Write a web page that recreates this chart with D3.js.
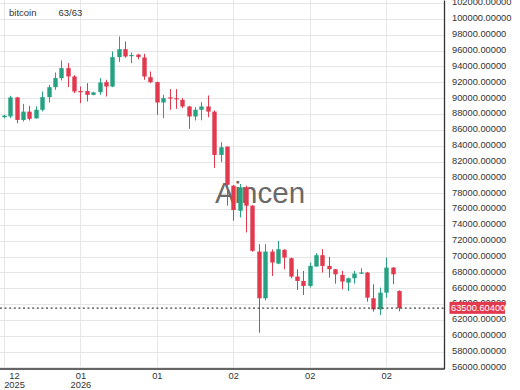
<!DOCTYPE html>
<html>
<head>
<meta charset="utf-8">
<script src="https://cdn.jsdelivr.net/npm/d3@7"></script>
<style>
html,body{margin:0;padding:0;background:#fff;}
svg{display:block;}
text{font-family:"Liberation Sans",Arial,sans-serif;}
</style>
</head>
<body>
<svg id="chart" width="520" height="390"></svg>
<script>
// ---- data ----
const seriesName = "bitcoin";
const countLabel = "63/63";
const watermark = "Aincen";
const opens  = [87600,87700,90100,87250,88300,87450,88530,90130,91390,92530,93790,92740,90900,90900,90420,90760,92020,91470,95180,96190,95300,95500,95140,92650,92020,89450,90100,90000,89790,88950,87685,88530,88950,88300,82830,83880,78950,75780,78740,76420,70630,64730,70630,69110,70850,69790,67470,66920,66290,68740,70170,68820,68400,67680,66710,67260,67850,67980,64730,63330,65440,68610,65650];
const highs  = [87900,90300,90150,89280,89030,88950,90840,91680,93240,94760,94420,92900,91470,91900,90800,92530,92320,95900,97790,97160,95770,95600,95600,93370,92100,90420,91140,91140,90000,89030,88860,89500,90340,88440,84430,83900,79030,79160,78950,76500,71560,71560,70900,71980,70930,69870,68400,68190,69240,70420,70930,69960,68400,68190,67340,68190,68520,68060,66500,66080,69870,68690,65740];
const lows   = [87450,87480,86840,87050,87180,87400,88320,89450,91050,92230,91390,90630,89370,89580,90350,90420,90210,91390,94550,95100,94420,94900,92320,91890,87900,87480,88530,88650,88740,86130,87180,87200,87600,81180,81900,76420,74520,74940,73040,70600,60380,64470,67550,69030,68400,67260,65780,65150,66080,68740,67980,67340,66580,65870,65650,66580,67800,64300,63040,62620,64810,66500,63080];
const closes = [87800,90100,87250,88300,87390,88530,90130,91390,92530,93790,92740,90840,90750,90420,90720,91980,91470,95180,96190,95260,95450,95200,92740,92020,89450,90000,89950,89850,88950,87685,88530,88950,88300,82830,83800,79070,75870,78740,76420,70720,64730,70630,69240,70930,69870,67470,66920,66290,68820,70170,68820,68400,67760,66840,67260,67850,67980,64810,63330,65440,68610,67760,63500.604];
const lastPrice = 63500.604;
const yTicks = [56000,58000,60000,62000,64000,66000,68000,70000,72000,74000,76000,78000,80000,82000,84000,86000,88000,90000,92000,94000,96000,98000,100000,102000];
const xTickIndex = [0,12,24,36,48,60];
const xTickMonth = ["12","01","01","02","02","02"];
const xTickYear  = ["2025","2026","","","",""];

// ---- layout ----
const plotRight = 444, plotBottom = 369;
const upColor = "#26a283", downColor = "#e2394f";
const svg = d3.select("#chart");

const x = d3.scaleLinear().domain([0, 62]).range([4, 398.9]);
const y = d3.scaleLinear().domain([55803, 102394]).range([plotBottom, 0]);

// grid
const grid = svg.append("g");
grid.selectAll("line.h").data(yTicks).join("line")
  .attr("x1", 0).attr("x2", plotRight)
  .attr("y1", d => Math.round(y(d)) + 0.5).attr("y2", d => Math.round(y(d)) + 0.5)
  .attr("stroke", "#e6e6e6").attr("stroke-width", 1);
grid.selectAll("line.v").data(xTickIndex).join("line")
  .attr("x1", d => Math.round(x(d)) + 0.5).attr("x2", d => Math.round(x(d)) + 0.5)
  .attr("y1", 0).attr("y2", plotBottom)
  .attr("stroke", "#e6e6e6").attr("stroke-width", 1);

// watermark
svg.append("text").attr("x", 260).attr("y", 203)
  .attr("text-anchor", "middle").attr("font-size", 29.5)
  .attr("fill", "#555").attr("fill-opacity", 0.9).text(watermark);

// candles
const idx = d3.range(opens.length);
const bw = 4.4;
const cg = svg.append("g");
cg.selectAll("line.wick").data(idx).join("line")
  .attr("x1", i => Math.round(x(i)) + 0.5).attr("x2", i => Math.round(x(i)) + 0.5)
  .attr("y1", i => y(highs[i])).attr("y2", i => y(lows[i]))
  .attr("stroke", i => closes[i] >= opens[i] ? upColor : downColor).attr("stroke-width", 1);
cg.selectAll("rect.body").data(idx).join("rect")
  .attr("x", i => Math.round(x(i)) + 0.5 - bw / 2)
  .attr("width", bw)
  .attr("y", i => y(Math.max(opens[i], closes[i])))
  .attr("height", i => Math.max(1.2, Math.abs(y(opens[i]) - y(closes[i]))))
  .attr("fill", i => closes[i] >= opens[i] ? upColor : downColor);

// last price line
svg.append("line").attr("x1", 0).attr("x2", plotRight)
  .attr("y1", y(lastPrice)).attr("y2", y(lastPrice))
  .attr("stroke", "#444").attr("stroke-width", 1.2).attr("stroke-dasharray", "2,2.6");

// y axis (right)
const yAxis = d3.axisRight(y).tickValues(yTicks).tickSize(0).tickPadding(8)
  .tickFormat(d => d3.format(".5f")(d));
const ya = svg.append("g").attr("transform", `translate(${plotRight},0)`).call(yAxis);
ya.select(".domain").attr("stroke", "#333").attr("stroke-width", 1.3);
ya.selectAll("text").attr("font-size", 9.3).attr("fill", "#333")
  .attr("font-family", "'Liberation Sans',Arial,sans-serif").attr("dy", "0.2em");

// x axis (bottom)
const xAxis = d3.axisBottom(x).tickValues(xTickIndex).tickSize(0).tickFormat("");
const xa = svg.append("g").attr("transform", `translate(0,${plotBottom})`).call(xAxis);
xa.select(".domain").remove();
svg.append("line").attr("x1", 0).attr("x2", plotRight)
  .attr("y1", plotBottom).attr("y2", plotBottom)
  .attr("stroke", "#333").attr("stroke-width", 1.3);
xa.selectAll(".tick").each(function(d, k) {
  const g = d3.select(this);
  const shift = k === 0 ? 10 : 0;
  g.append("text").attr("x", shift).attr("y", 10).attr("text-anchor", "middle")
    .attr("font-size", 9.3).attr("fill", "#333").text(xTickMonth[k]);
  if (xTickYear[k]) g.append("text").attr("x", shift).attr("y", 19).attr("text-anchor", "middle")
    .attr("font-size", 9.3).attr("fill", "#333").text(xTickYear[k]);
});

// last price label
const ly = y(lastPrice);
svg.append("rect").attr("x", 449.5).attr("y", ly - 6.2).attr("width", 55.5).attr("height", 12)
  .attr("fill", downColor);
svg.append("text").attr("x", 451).attr("y", ly + 3.3).attr("font-size", 9.3)
  .attr("fill", "#fff").text(d3.format(".5f")(lastPrice));

// header
svg.append("text").attr("x", 9).attr("y", 16).attr("font-size", 9.5).attr("fill", "#333").text(seriesName);
svg.append("text").attr("x", 58.5).attr("y", 16).attr("font-size", 9.5).attr("fill", "#333").text(countLabel);
</script>
</body>
</html>
